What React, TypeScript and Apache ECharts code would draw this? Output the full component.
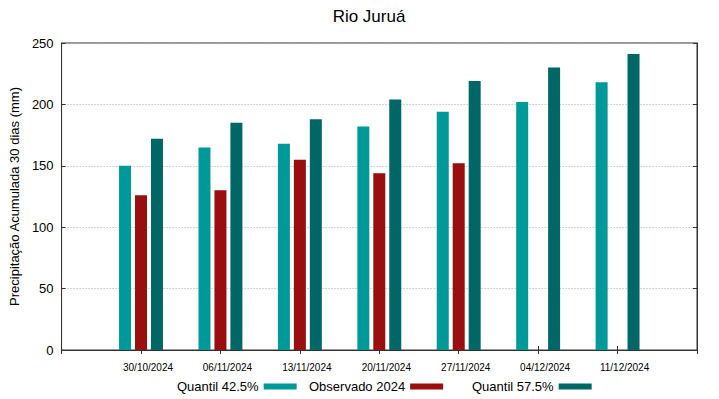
import React, { useEffect, useRef } from "react";
import * as echarts from "echarts";

const categories = ["30/10/2024", "06/11/2024", "13/11/2024", "20/11/2024", "27/11/2024", "04/12/2024", "11/12/2024"];
const quantil425 = [150, 165, 168, 182, 194, 202, 218];
const observado2024: (number | null)[] = [126, 130, 155, 144, 152, null, null];
const quantil575 = [172, 185, 188, 204, 219, 230, 241];
const yTicks = [0, 50, 100, 150, 200, 250];

const FONT = "'Liberation Sans', Arial, sans-serif";
const C1 = "#009999";
const C2 = "#990e0e";
const C3 = "#006666";

export default function App() {
  const ref = useRef<HTMLDivElement>(null);
  useEffect(() => {
    if (!ref.current) return;
    const chart = echarts.init(ref.current, undefined, { renderer: "svg" });
    const cats = ["", ...categories, ""];
    const pad = (a: (number | null)[]) => [null, ...a, null];
    const bar = (name: string, data: (number | null)[], color: string) => ({
      name,
      type: "bar",
      data: pad(data),
      barWidth: 12,
      barGap: "33%",
      itemStyle: { color },
      xAxisIndex: 0,
      yAxisIndex: 0,
    });
    const legend = (name: string, left: number) => ({
      data: [name],
      left,
      top: 380,
      padding: 0,
      align: "right",
      itemWidth: 33,
      itemHeight: 6,
      icon: "rect",
      selectedMode: false,
      textStyle: { fontFamily: FONT, fontSize: 13, color: "#000" },
    });
    chart.setOption({
      animation: false,
      backgroundColor: "#fff",
      textStyle: { fontFamily: FONT },
      graphic: [
        {
          type: "text",
          x: 369,
          y: 16,
          style: {
            text: "Rio Juruá",
            textAlign: "center",
            textVerticalAlign: "middle",
            font: `17px ${FONT}`,
            fill: "#000",
          },
        },
      ],
      grid: { left: 59, right: 22, top: 43, bottom: 49, show: true, borderColor: "#333", borderWidth: 1 },
      legend: [legend("Quantil 42.5%", 177), legend("Observado 2024", 309), legend("Quantil 57.5%", 472)],
      xAxis: [
        {
          type: "category",
          data: cats,
          boundaryGap: false,
          position: "bottom",
          axisLine: { show: true, lineStyle: { color: "#333" } },
          axisTick: { show: true, inside: true, length: 4, interval: 0, lineStyle: { color: "#333" } },
          axisLabel: { interval: 0, fontSize: 10, color: "#000", margin: 12, fontFamily: FONT, padding: [0, 0, 0, 14] },
          splitLine: { show: false },
        },
        {
          type: "category",
          data: cats,
          boundaryGap: false,
          position: "top",
          axisLine: { show: true, lineStyle: { color: "#333" } },
          axisTick: { show: true, inside: true, length: 4, interval: 0, lineStyle: { color: "#333" } },
          axisLabel: { show: false },
          splitLine: { show: false },
        },
      ],
      yAxis: [
        {
          type: "value",
          min: yTicks[0],
          max: yTicks[yTicks.length - 1],
          interval: 50,
          name: "Precipitação Acumulada 30 dias (mm)",
          nameLocation: "middle",
          nameGap: 40,
          nameTextStyle: { fontSize: 13, color: "#000", fontFamily: FONT },
          axisLine: { show: true, lineStyle: { color: "#333" } },
          axisTick: { show: true, inside: true, length: 4, lineStyle: { color: "#333" } },
          axisLabel: { fontSize: 13, color: "#000", margin: 8, fontFamily: FONT },
          splitLine: { show: true, lineStyle: { color: "#aaa", type: [1, 2], width: 1 } },
        },
        {
          type: "value",
          min: yTicks[0],
          max: yTicks[yTicks.length - 1],
          interval: 50,
          position: "right",
          axisLine: { show: true, lineStyle: { color: "#333" } },
          axisTick: { show: true, inside: true, length: 4, lineStyle: { color: "#333" } },
          axisLabel: { show: false },
          splitLine: { show: false },
        },
      ],
      series: [
        bar("Quantil 42.5%", quantil425, C1),
        bar("Observado 2024", observado2024, C2),
        bar("Quantil 57.5%", quantil575, C3),
      ],
    });
    return () => chart.dispose();
  }, []);
  return <div ref={ref} style={{ position: "fixed", left: 0, top: 0, width: 719, height: 399 }} />;
}
